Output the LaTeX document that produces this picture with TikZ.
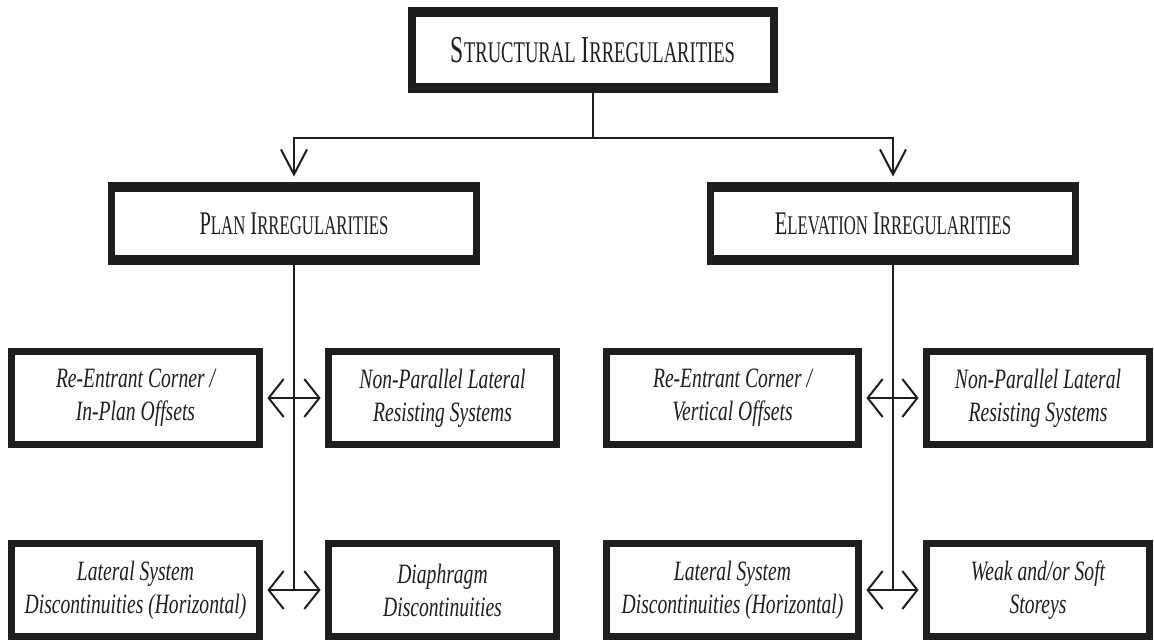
\documentclass[tikz,border=0pt]{standalone}
\usepackage{fontspec}
\setmainfont{Liberation Serif}[FakeStretch=0.7]
\newfontfamily\capsfont{Liberation Serif}[FakeStretch=0.62]
\usetikzlibrary{arrows.meta}
\definecolor{ink}{HTML}{1E1E1E}
\newcommand{\lowcaps}[2][13.5pt]{{\fontsize{#1}{#1}\selectfont #2}}
\tikzset{
  irrbox/.style 2 args={fill=ink, text=ink, inner sep=0pt, align=center,
    path picture={\fill[white] ([xshift=#1,yshift=-#2]path picture bounding box.north west)
      rectangle ([xshift=-#1,yshift=#2]path picture bounding box.south east);}},
  headbox/.style={irrbox={4pt}{5pt}, minimum width=185pt, minimum height=43pt,
    font=\capsfont\fontsize{19pt}{20pt}\selectfont},
  groupbox/.style={irrbox={3.5pt}{5pt}, minimum width=186pt, minimum height=41.5pt,
    font=\capsfont\fontsize{16.5pt}{17pt}\selectfont},
  itembox/.style={irrbox={3.5pt}{3.5pt}, minimum height=50pt,
    font=\fontsize{14pt}{16.5pt}\selectfont\itshape},
  conn/.style={draw=ink, line width=1pt},
  downarrow/.style={conn, >={Straight Barb[length=12.5pt,width=13pt]}, ->, shorten >=2.5pt},
  sidearrow/.style={conn, >={Straight Barb[length=7.5pt,width=19pt]}, <->, shorten <=2pt, shorten >=2pt}
}
\begin{document}
\begin{tikzpicture}[x=0.5pt,y=-0.5pt]
\useasboundingbox (0,0) rectangle (1154,641);

\node[headbox] (struct) at (593,50) {S\lowcaps[15pt]{TRUCTURAL} I\lowcaps[15pt]{RREGULARITIES}};
\node[groupbox] (plan) at (294,223.5) {P\lowcaps{LAN} I\lowcaps{RREGULARITIES}};
\node[groupbox] (elev) at (893,223.5) {E\lowcaps{LEVATION} I\lowcaps{RREGULARITIES}};

\node[itembox, minimum width=127.5pt] (planA1) at (135.5,398) {Re-Entrant Corner /\\In-Plan Offsets};
\node[itembox, minimum width=117.5pt] (planB1) at (442.5,398) {Non-Parallel Lateral\\Resisting Systems};
\node[itembox, minimum width=127.5pt] (planA2) at (135.5,590) {Lateral System\\Discontinuities (Horizontal)};
\node[itembox, minimum width=117.5pt] (planB2) at (442.5,590) {Diaphragm\\Discontinuities};

\node[itembox, minimum width=129.5pt] (elevA1) at (732.5,398) {Re-Entrant Corner /\\Vertical Offsets};
\node[itembox, minimum width=115pt] (elevB1) at (1038,398) {Non-Parallel Lateral\\Resisting Systems};
\node[itembox, minimum width=129.5pt] (elevA2) at (732.5,590) {Lateral System\\Discontinuities (Horizontal)};
\node[itembox, minimum width=115pt] (elevB2) at (1038,590) {Weak and/or Soft\\Storeys};

\draw[downarrow] (struct.south) -- ++(0,45) -| (plan.north);
\draw[downarrow] (struct.south) -- ++(0,45) -| (elev.north);

\draw[conn] (plan.south) -- (plan.south |- planA2.east);
\draw[conn] (elev.south) -- (elev.south |- elevA2.east);

\foreach \l/\r in {planA1/planB1, planA2/planB2, elevA1/elevB1, elevA2/elevB2}
  \draw[sidearrow] (\l.east) -- (\r.west);
\end{tikzpicture}
\end{document}
